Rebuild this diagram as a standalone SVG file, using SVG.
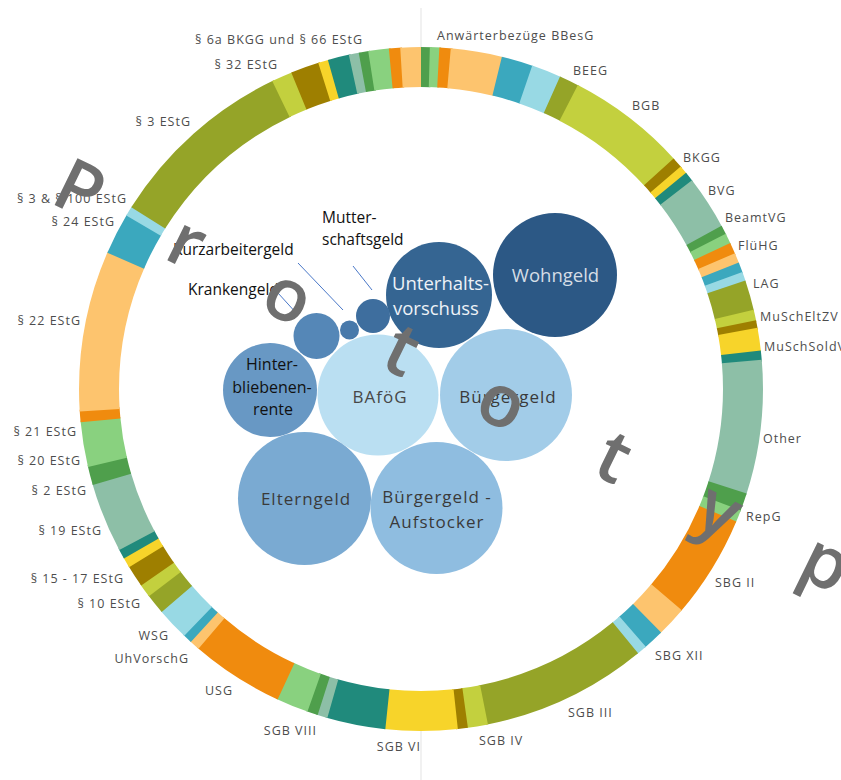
<svg xmlns="http://www.w3.org/2000/svg" width="841" height="780" viewBox="0 0 841 780">
<style>
.r{fill:none;stroke-width:40}
.dg{stroke:#4f9f4c}.lg{stroke:#89d17f}.or{stroke:#f08b0e}.lo{stroke:#fdc46e}
.tb{stroke:#3ba8be}.lb{stroke:#98d9e4}.ol{stroke:#95a428}.li{stroke:#c3d03e}
.do{stroke:#9e7f00}.ye{stroke:#f7d42a}.dt{stroke:#208a7c}.gg{stroke:#8dbfa7}
.lab{font-family:"Open Sans","Liberation Sans",sans-serif;font-size:12.5px;letter-spacing:1px;fill:#4d4d4d}
.e{text-anchor:end}
.bl{font-family:"Open Sans","Liberation Sans",sans-serif;font-size:15.5px;fill:#111}
.bt{font-family:"Open Sans","Liberation Sans",sans-serif;font-size:17px;letter-spacing:1px;fill:#3a3a3a;text-anchor:middle}
.wt{font-family:"Open Sans","Liberation Sans",sans-serif;font-size:18.5px;fill:#eef2f7}
.ld{stroke:#4a78c8;stroke-width:1;fill:none}
.wm{font-family:"Open Sans","Liberation Sans",sans-serif;font-size:73px;font-weight:600;fill:#6f6f6f}
</style>
<rect width="841" height="780" fill="#ffffff"/>
<g id="axis" stroke="#e3e3e3" stroke-width="1">
<line x1="421" y1="8" x2="421" y2="48"/>
<line x1="421" y1="730" x2="421" y2="780"/>
</g>
<g id="ring" transform="rotate(-90 421 389)">
<circle class="r dg" cx="421" cy="389" r="322" pathLength="360" stroke-dasharray="1.8 400" stroke-dashoffset="0"/>
<circle class="r lg" cx="421" cy="389" r="322" pathLength="360" stroke-dasharray="1.9 400" stroke-dashoffset="-1.5"/>
<circle class="r or" cx="421" cy="389" r="322" pathLength="360" stroke-dasharray="2.2 400" stroke-dashoffset="-3.1"/>
<circle class="r lo" cx="421" cy="389" r="322" pathLength="360" stroke-dasharray="9.0 400" stroke-dashoffset="-5.0"/>
<circle class="r tb" cx="421" cy="389" r="322" pathLength="360" stroke-dasharray="5.6 400" stroke-dashoffset="-13.7"/>
<circle class="r lb" cx="421" cy="389" r="322" pathLength="360" stroke-dasharray="5.3 400" stroke-dashoffset="-19.0"/>
<circle class="r ol" cx="421" cy="389" r="322" pathLength="360" stroke-dasharray="3.6 400" stroke-dashoffset="-24.0"/>
<circle class="r li" cx="421" cy="389" r="322" pathLength="360" stroke-dasharray="20.6 400" stroke-dashoffset="-27.3"/>
<circle class="r do" cx="421" cy="389" r="322" pathLength="360" stroke-dasharray="2.1 400" stroke-dashoffset="-47.6"/>
<circle class="r ye" cx="421" cy="389" r="322" pathLength="360" stroke-dasharray="1.7 400" stroke-dashoffset="-49.4"/>
<circle class="r dt" cx="421" cy="389" r="322" pathLength="360" stroke-dasharray="1.9 400" stroke-dashoffset="-50.8"/>
<circle class="r gg" cx="421" cy="389" r="322" pathLength="360" stroke-dasharray="9.4 400" stroke-dashoffset="-52.4"/>
<circle class="r dg" cx="421" cy="389" r="322" pathLength="360" stroke-dasharray="1.8 400" stroke-dashoffset="-61.5"/>
<circle class="r lg" cx="421" cy="389" r="322" pathLength="360" stroke-dasharray="2.0 400" stroke-dashoffset="-63.0"/>
<circle class="r or" cx="421" cy="389" r="322" pathLength="360" stroke-dasharray="2.2 400" stroke-dashoffset="-64.7"/>
<circle class="r lo" cx="421" cy="389" r="322" pathLength="360" stroke-dasharray="2.0 400" stroke-dashoffset="-66.6"/>
<circle class="r tb" cx="421" cy="389" r="322" pathLength="360" stroke-dasharray="2.0 400" stroke-dashoffset="-68.3"/>
<circle class="r lb" cx="421" cy="389" r="322" pathLength="360" stroke-dasharray="1.8 400" stroke-dashoffset="-70.0"/>
<circle class="r ol" cx="421" cy="389" r="322" pathLength="360" stroke-dasharray="5.4 400" stroke-dashoffset="-71.5"/>
<circle class="r li" cx="421" cy="389" r="322" pathLength="360" stroke-dasharray="2.1 400" stroke-dashoffset="-76.6"/>
<circle class="r do" cx="421" cy="389" r="322" pathLength="360" stroke-dasharray="1.6 400" stroke-dashoffset="-78.4"/>
<circle class="r ye" cx="421" cy="389" r="322" pathLength="360" stroke-dasharray="4.1 400" stroke-dashoffset="-79.7"/>
<circle class="r dt" cx="421" cy="389" r="322" pathLength="360" stroke-dasharray="1.9 400" stroke-dashoffset="-83.5"/>
<circle class="r gg" cx="421" cy="389" r="322" pathLength="360" stroke-dasharray="23.0 400" stroke-dashoffset="-85.1"/>
<circle class="r dg" cx="421" cy="389" r="322" pathLength="360" stroke-dasharray="3.3 400" stroke-dashoffset="-107.8"/>
<circle class="r lg" cx="421" cy="389" r="322" pathLength="360" stroke-dasharray="2.3 400" stroke-dashoffset="-110.8"/>
<circle class="r or" cx="421" cy="389" r="322" pathLength="360" stroke-dasharray="17.8 400" stroke-dashoffset="-112.8"/>
<circle class="r lo" cx="421" cy="389" r="322" pathLength="360" stroke-dasharray="5.4 400" stroke-dashoffset="-130.3"/>
<circle class="r tb" cx="421" cy="389" r="322" pathLength="360" stroke-dasharray="3.8 400" stroke-dashoffset="-135.4"/>
<circle class="r lb" cx="421" cy="389" r="322" pathLength="360" stroke-dasharray="2.0 400" stroke-dashoffset="-138.9"/>
<circle class="r ol" cx="421" cy="389" r="322" pathLength="360" stroke-dasharray="28.4 400" stroke-dashoffset="-140.6"/>
<circle class="r li" cx="421" cy="389" r="322" pathLength="360" stroke-dasharray="3.7 400" stroke-dashoffset="-168.7"/>
<circle class="r do" cx="421" cy="389" r="322" pathLength="360" stroke-dasharray="2.0 400" stroke-dashoffset="-172.1"/>
<circle class="r ye" cx="421" cy="389" r="322" pathLength="360" stroke-dasharray="12.5 400" stroke-dashoffset="-173.8"/>
<circle class="r dt" cx="421" cy="389" r="322" pathLength="360" stroke-dasharray="10.2 400" stroke-dashoffset="-186.0"/>
<circle class="r gg" cx="421" cy="389" r="322" pathLength="360" stroke-dasharray="2.0 400" stroke-dashoffset="-195.9"/>
<circle class="r dg" cx="421" cy="389" r="322" pathLength="360" stroke-dasharray="2.1 400" stroke-dashoffset="-197.6"/>
<circle class="r lg" cx="421" cy="389" r="322" pathLength="360" stroke-dasharray="5.7 400" stroke-dashoffset="-199.4"/>
<circle class="r or" cx="421" cy="389" r="322" pathLength="360" stroke-dasharray="16.1 400" stroke-dashoffset="-204.8"/>
<circle class="r lo" cx="421" cy="389" r="322" pathLength="360" stroke-dasharray="2.0 400" stroke-dashoffset="-220.6"/>
<circle class="r tb" cx="421" cy="389" r="322" pathLength="360" stroke-dasharray="1.8 400" stroke-dashoffset="-222.3"/>
<circle class="r lb" cx="421" cy="389" r="322" pathLength="360" stroke-dasharray="5.8 400" stroke-dashoffset="-223.8"/>
<circle class="r ol" cx="421" cy="389" r="322" pathLength="360" stroke-dasharray="3.7 400" stroke-dashoffset="-229.3"/>
<circle class="r li" cx="421" cy="389" r="322" pathLength="360" stroke-dasharray="2.5 400" stroke-dashoffset="-232.7"/>
<circle class="r do" cx="421" cy="389" r="322" pathLength="360" stroke-dasharray="4.0 400" stroke-dashoffset="-234.9"/>
<circle class="r ye" cx="421" cy="389" r="322" pathLength="360" stroke-dasharray="2.0 400" stroke-dashoffset="-238.6"/>
<circle class="r dt" cx="421" cy="389" r="322" pathLength="360" stroke-dasharray="1.9 400" stroke-dashoffset="-240.3"/>
<circle class="r gg" cx="421" cy="389" r="322" pathLength="360" stroke-dasharray="12.1 400" stroke-dashoffset="-241.9"/>
<circle class="r dg" cx="421" cy="389" r="322" pathLength="360" stroke-dasharray="3.4 400" stroke-dashoffset="-253.7"/>
<circle class="r lg" cx="421" cy="389" r="322" pathLength="360" stroke-dasharray="7.9 400" stroke-dashoffset="-256.8"/>
<circle class="r or" cx="421" cy="389" r="322" pathLength="360" stroke-dasharray="2.1 400" stroke-dashoffset="-264.4"/>
<circle class="r lo" cx="421" cy="389" r="322" pathLength="360" stroke-dasharray="27.6 400" stroke-dashoffset="-266.2"/>
<circle class="r tb" cx="421" cy="389" r="322" pathLength="360" stroke-dasharray="7.3 400" stroke-dashoffset="-293.5"/>
<circle class="r lb" cx="421" cy="389" r="322" pathLength="360" stroke-dasharray="1.9 400" stroke-dashoffset="-300.5"/>
<circle class="r ol" cx="421" cy="389" r="322" pathLength="360" stroke-dasharray="32.4 400" stroke-dashoffset="-302.1"/>
<circle class="r li" cx="421" cy="389" r="322" pathLength="360" stroke-dasharray="3.8 400" stroke-dashoffset="-334.2"/>
<circle class="r do" cx="421" cy="389" r="322" pathLength="360" stroke-dasharray="5.1 400" stroke-dashoffset="-337.7"/>
<circle class="r ye" cx="421" cy="389" r="322" pathLength="360" stroke-dasharray="2.0 400" stroke-dashoffset="-342.5"/>
<circle class="r dt" cx="421" cy="389" r="322" pathLength="360" stroke-dasharray="3.9 400" stroke-dashoffset="-344.2"/>
<circle class="r gg" cx="421" cy="389" r="322" pathLength="360" stroke-dasharray="2.0 400" stroke-dashoffset="-347.8"/>
<circle class="r dg" cx="421" cy="389" r="322" pathLength="360" stroke-dasharray="1.9 400" stroke-dashoffset="-349.5"/>
<circle class="r lg" cx="421" cy="389" r="322" pathLength="360" stroke-dasharray="3.8 400" stroke-dashoffset="-351.1"/>
<circle class="r or" cx="421" cy="389" r="322" pathLength="360" stroke-dasharray="2.2 400" stroke-dashoffset="-354.6"/>
<circle class="r lo" cx="421" cy="389" r="322" pathLength="360" stroke-dasharray="3.5 400" stroke-dashoffset="-356.5"/>
</g>
<g id="ring-labels" class="lab">
<text class="e" x="363" y="44">§ 6a BKGG und § 66 EStG</text>
<text class="e" x="278" y="69">§ 32 EStG</text>
<text class="e" x="191" y="126">§ 3 EStG</text>
<text class="e" x="127" y="203">§ 3 &amp; § 100 EStG</text>
<text class="e" x="115" y="226">§ 24 EStG</text>
<text class="e" x="81" y="325">§ 22 EStG</text>
<text class="e" x="77" y="436">§ 21 EStG</text>
<text class="e" x="81" y="465">§ 20 EStG</text>
<text class="e" x="87" y="495">§ 2 EStG</text>
<text class="e" x="102" y="535">§ 19 EStG</text>
<text class="e" x="124" y="583">§ 15 - 17 EStG</text>
<text class="e" x="141" y="608">§ 10 EStG</text>
<text class="e" x="169" y="640">WSG</text>
<text class="e" x="189" y="663">UhVorschG</text>
<text class="e" x="233" y="695">USG</text>
<text class="e" x="317" y="735">SGB VIII</text>
<text class="e" x="421" y="751">SGB VI</text>
<text x="479" y="745">SGB IV</text>
<text x="568" y="717">SGB III</text>
<text x="655" y="660">SBG XII</text>
<text x="715" y="587">SBG II</text>
<text x="746" y="521">RepG</text>
<text x="763" y="443">Other</text>
<text x="764" y="351">MuSchSoldV</text>
<text x="760" y="321">MuSchEltZV</text>
<text x="753" y="288">LAG</text>
<text x="738" y="250">FlüHG</text>
<text x="725" y="222">BeamtVG</text>
<text x="708" y="195">BVG</text>
<text x="683" y="162">BKGG</text>
<text x="632" y="110">BGB</text>
<text x="573" y="75">BEEG</text>
<text x="437" y="40">Anwärterbezüge BBesG</text>
</g>
<g id="connectors">
<line class="ld" x1="298" y1="263" x2="343" y2="310"/>
<line class="ld" x1="353" y1="266" x2="372" y2="290"/>
<line class="ld" x1="278" y1="293" x2="298" y2="315"/>
</g>
<g id="wohngeld"><circle cx="555" cy="275" r="62" fill="#2c5885"/><text class="wt" x="555.5" y="282" text-anchor="middle" style="fill:#d5dde6">Wohngeld</text></g>
<g id="unterhaltsvorschuss"><circle cx="439" cy="295" r="53" fill="#356592"/><text class="wt" x="392" y="290">Unterhalts-</text><text class="wt" x="393" y="315">vorschuss</text></g>
<g id="mutterschaftsgeld"><circle cx="373" cy="316" r="17" fill="#3e6e9e"/><text class="bl" x="322" y="223">Mutter-</text><text class="bl" x="322" y="245">schaftsgeld</text></g>
<g id="kurzarbeitergeld"><circle cx="349.5" cy="330" r="9.5" fill="#4879aa"/><text class="bl" x="173" y="255">Kurzarbeitergeld</text></g>
<g id="krankengeld"><circle cx="316.5" cy="336" r="23" fill="#5587b7"/><text class="bl" x="188" y="295">Krankengeld</text></g>
<g id="hinterbliebenenrente"><circle cx="270" cy="390" r="47" fill="#6898c4"/><text class="bt" style="letter-spacing:0;font-size:16px;fill:#111" x="272" y="370">Hinter-</text><text class="bt" style="letter-spacing:0;font-size:16px;fill:#111" x="272" y="393">bliebenen-</text><text class="bt" style="letter-spacing:0;font-size:16px;fill:#111" x="273" y="415">rente</text></g>
<g id="bafoeg"><circle cx="378" cy="395" r="60.5" fill="#badff2"/><text class="bt" style="fill:#474747" x="380" y="403">BAföG</text></g>
<g id="buergergeld"><circle cx="506" cy="395" r="66" fill="#a2cce8"/><text class="bt" x="508" y="403">Bürgergeld</text></g>
<g id="elterngeld"><circle cx="304.5" cy="498.5" r="66.5" fill="#7aaad2"/><text class="bt" x="306" y="505">Elterngeld</text></g>
<g id="buergergeld-aufstocker"><circle cx="436.5" cy="508" r="66" fill="#8fbde0"/><text class="bt" x="437" y="503">Bürgergeld -</text><text class="bt" x="437" y="528">Aufstocker</text></g>
<text class="wm" x="48.5 162 257.6 378 471.4 590 691 795" y="202 257.7 308.7 366 414.5 473 524 575" rotate="26">Prototyp</text>
</svg>
